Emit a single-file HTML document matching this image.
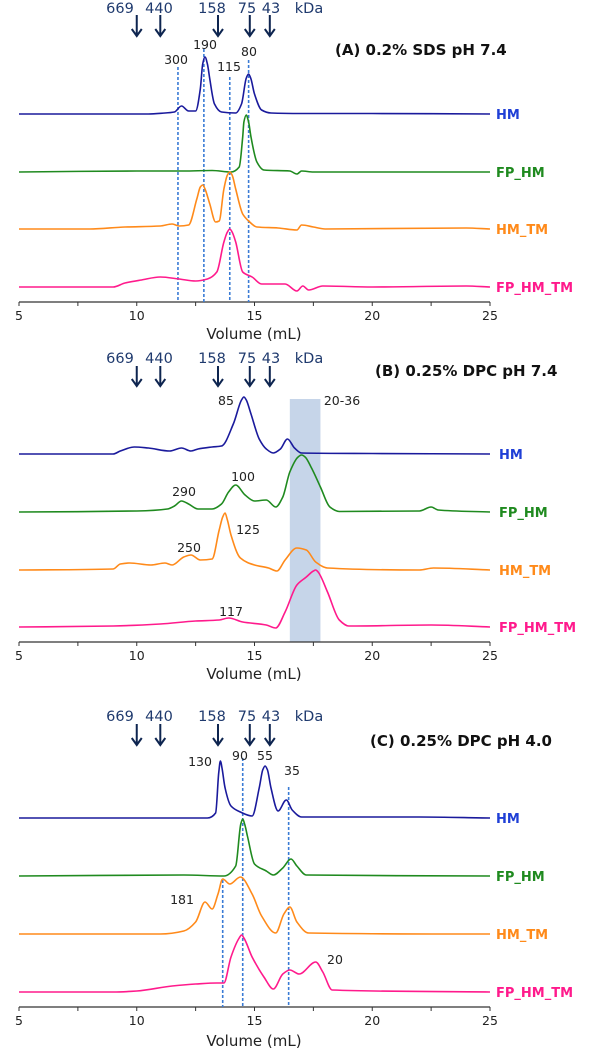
<!DOCTYPE html>
<html><head><meta charset="utf-8"><style>
html,body{margin:0;padding:0;background:#fff;}
svg{display:block;font-family:"DejaVu Sans","Liberation Sans",sans-serif;}
</style></head><body>
<svg id="chart" width="600" height="1050" viewBox="0 0 600 1050" xmlns="http://www.w3.org/2000/svg"></svg>
<script>
// ---- data ----
const seriesNames = ["HM","FP_HM","HM_TM","FP_HM_TM"];
const markerLabels = ["669","440","158","75","43"];
const markerVolumes = [10.0, 11.0, 13.45, 14.8, 15.65];
const tickValues = [5,10,15,20,25];
// Panel A
const aHM_v = [5,10.5,11.2,11.6,11.9,12.2,12.5,12.7,12.8,12.9,13.0,13.1,13.3,13.6,14.2,14.45,14.65,14.75,14.85,15.0,15.3,15.7,17,20,25];
const aHM_s = [0,0,1,2,8,3,3,25,50,57,50,35,10,2,1,10,36,40,35,20,4,1,0.5,0.5,0];
const aFP_v = [5,10,12,13.2,14,14.35,14.5,14.55,14.65,14.75,14.85,15.1,15.4,16.5,16.8,17.0,17.5,25];
const aFP_s = [0,1,1,1.5,0,5,35,50,57,50,35,10,2,1,-2,1,0,0];
const aTM_v = [5,8,9.5,11,11.5,11.8,12.2,12.55,12.7,12.8,12.9,13.1,13.35,13.5,13.7,13.85,13.95,14.05,14.2,14.5,14.75,15.1,16,16.8,17.0,17.5,18,24,25];
const aTM_s = [0,0,2,3,5,3,4,30,42,44,40,25,7,8,40,54,57,54,40,15,8,2,1,-1,4,2,0,1,0];
const aFT_v = [5,9,9.5,10.2,11,11.8,12.5,13,13.4,13.7,13.85,13.95,14.05,14.2,14.5,14.9,15.3,16.3,16.8,17.05,17.3,17.9,20,24,25];
const aFT_s = [0,0,4,7,10,8,6,8,15,45,55,58,55,45,15,10,3,3,-4,1,-3,1,0,1,0];
// Panel B
const bHM_v = [5,9,9.3,9.9,10.5,11.4,11.9,12.3,12.6,13.2,13.6,14.1,14.45,14.55,14.65,14.85,15.2,15.5,15.8,16.1,16.4,16.7,17.0,20,25];
const bHM_s = [0,0,3,7,6,3,6,3,5,7,8,30,54,57,54,40,15,5,1,5,15,6,1,0.5,0];
const bFP_v = [5,10,11.3,11.6,11.9,12.2,12.6,13.2,13.6,13.9,14.2,14.6,15.0,15.5,15.9,16.2,16.5,16.85,17.0,17.15,17.4,17.8,18.2,18.6,22,22.5,22.8,25];
const bFP_s = [0,1,3,6,11,8,3,3,8,20,27,17,11,12,5,15,40,55,57,55,45,25,5,0.5,1,5,2,0];
const bTM_v = [5,9,9.3,9.7,10.6,11.2,11.5,12,12.3,12.7,13.2,13.5,13.65,13.75,13.85,14.0,14.4,15.0,15.6,15.95,16.3,16.8,17.2,17.6,18.1,22,22.6,25];
const bTM_s = [0,1,6,7,5,7,5,13,15,10,11,40,53,57,50,35,12,5,2,-1,10,22,20,8,2,0,2,0];
const bFT_v = [5,9,11,12.5,13.5,13.9,14.5,15.5,15.9,16.3,16.8,17.2,17.5,17.6,17.7,18.1,18.6,19,22.5,25];
const bFT_s = [0,1,3,6,7,9,5,2,-1,15,42,50,56,57,55,35,7,1,2,0];
// Panel C
const cHM_v = [5,13.0,13.35,13.48,13.55,13.62,13.75,14.0,14.4,14.9,15.2,15.35,15.45,15.55,15.7,16.0,16.35,16.6,17.0,22,25];
const cHM_s = [0,0,5,45,57,50,30,12,6,2,30,48,52,48,30,7,18,8,1,1,0];
const cFP_v = [5,12,13.7,14.2,14.42,14.5,14.58,14.7,15.0,15.5,15.8,16.2,16.55,16.8,17.2,25];
const cFP_s = [0,1,0,10,52,57,52,40,12,5,1,8,17,10,1,0];
const cTM_v = [5,11,12.0,12.5,12.9,13.2,13.45,13.65,13.95,14.4,14.9,15.3,15.9,16.25,16.5,16.8,17.3,24,25];
const cTM_s = [0,0,3,12,32,25,40,55,50,57,40,18,1,20,27,12,1,0,0];
const cFT_v = [5,9,10,11.5,12.5,13.4,13.7,14.0,14.35,14.45,14.55,14.9,15.4,15.8,16.2,16.5,16.9,17.6,17.9,18.3,25];
const cFT_s = [0,0,1,6,8,9,9,35,54,57,54,35,15,3,18,22,18,30,20,2,0];

const colors = ["#1a1a9c","#1f8a1f","#ff8a1a","#ff1a8c"];
const labelColors = ["#1f3fd6","#1f8a1f","#ff8a1a","#ff1a8c"];
const markerTextX = [120,159,212,247,271];

const panels = [
 {id:"a", axisY:302, base:[114,172,229,287], axisTitleY:339, markerY:8, arrowY:[15,36],
  title:"(A)  0.2% SDS   pH 7.4", titleX:335, titleY:50, labelX:496,
  series:[[aHM_v,aHM_s],[aFP_v,aFP_s],[aTM_v,aTM_s],[aFT_v,aFT_s]],
  dashes:[[11.75,67],[12.85,49],[13.95,77],[14.75,60]],
  peaks:[["300",176,60],["190",205,45],["115",229,67],["80",249,52]]},
 {id:"b", axisY:642, base:[454,512,570,627], axisTitleY:679, markerY:358, arrowY:[366,386],
  title:"(B)  0.25% DPC   pH 7.4", titleX:375, titleY:371, labelX:499,
  series:[[bHM_v,bHM_s],[bFP_v,bFP_s],[bTM_v,bTM_s],[bFT_v,bFT_s]],
  dashes:[], shade:[16.5,17.8,399],
  peaks:[["85",226,401],["20-36",342,401],["290",184,492],["100",243,477],["250",189,548],["125",248,530],["117",231,612]]},
 {id:"c", axisY:1007, base:[818,876,934,992], axisTitleY:1046, markerY:716, arrowY:[724,745],
  title:"(C)  0.25% DPC   pH 4.0", titleX:370, titleY:741, labelX:496,
  series:[[cHM_v,cHM_s],[cFP_v,cFP_s],[cTM_v,cTM_s],[cFT_v,cFT_s]],
  dashes:[[13.65,880],[14.5,758],[16.45,787]],
  peaks:[["130",200,762],["90",240,756],["55",265,756],["35",292,771],["181",182,900],["20",335,960]]}
];

const svg = document.getElementById("chart");
const NS = "http://www.w3.org/2000/svg";
function xScale(v){ return 19 + (v-5)*23.55; }
function yScale(base, s){ return base - s; }
function mk(tag, attrs, parent){
  const e = document.createElementNS(NS, tag);
  for (const k in attrs) e.setAttribute(k, attrs[k]);
  (parent||svg).appendChild(e);
  return e;
}
function monoPath(pts){
  const n = pts.length;
  const dx=[], dy=[], m=[];
  for (let i=0;i<n-1;i++){ dx.push(pts[i+1][0]-pts[i][0]); dy.push(pts[i+1][1]-pts[i][1]); m.push(dy[i]/dx[i]); }
  const t=[m[0]];
  for (let i=1;i<n-1;i++){
    if (m[i-1]*m[i] <= 0) t.push(0);
    else { const w1=2*dx[i]+dx[i-1], w2=dx[i]+2*dx[i-1]; t.push((w1+w2)/(w1/m[i-1]+w2/m[i])); }
  }
  t.push(m[n-2]);
  let d = "M"+pts[0][0].toFixed(1)+","+pts[0][1].toFixed(1);
  for (let i=0;i<n-1;i++){
    const h=dx[i]/3;
    d += " C"+(pts[i][0]+h).toFixed(1)+","+(pts[i][1]+t[i]*h).toFixed(1)+" "+(pts[i+1][0]-h).toFixed(1)+","+(pts[i+1][1]-t[i+1]*h).toFixed(1)+" "+pts[i+1][0].toFixed(1)+","+pts[i+1][1].toFixed(1);
  }
  return d;
}

panels.forEach(p=>{
  const g = mk("g",{});
  
  
  if (p.shade){
    const r = mk("rect",{x:xScale(p.shade[0]), y:p.shade[2], width:xScale(p.shade[1])-xScale(p.shade[0]), height:p.axisY-p.shade[2], fill:"#c6d5e9"}, g);
    
    
  }
  const ax = mk("line",{x1:xScale(5), x2:xScale(25), y1:p.axisY, y2:p.axisY, stroke:"#333", "stroke-width":1.2}, g);
  
  
  for (let v=5; v<=25; v+=2.5){
    const t = mk("line",{x1:xScale(v), x2:xScale(v), y1:p.axisY, y2:p.axisY+4, stroke:"#333", "stroke-width":1}, g);
    
    
  }
  tickValues.forEach(v=>{
    const t = mk("text",{x:xScale(v), y:p.axisY+18, "text-anchor":"middle", "font-size":12.5, fill:"#222"}, g);
    t.textContent = v;
    
    
  });
  const at = mk("text",{x:254, y:p.axisTitleY, "text-anchor":"middle", "font-size":15, fill:"#222"}, g);
  at.textContent = "Volume (mL)";
  
  
  p.dashes.forEach(dv=>{
    const l = mk("line",{x1:xScale(dv[0]), x2:xScale(dv[0]), y1:dv[1], y2:p.axisY, stroke:"#3a7bd5", "stroke-width":1.6, "stroke-dasharray":"3,2"}, g);
    
    
  });
  markerLabels.forEach((m,i)=>{
    const x = xScale(markerVolumes[i]);
    const t = mk("text",{x:markerTextX[i], y:p.markerY+5, "text-anchor":"middle", "font-size":14.5, fill:"#1f3a6e"}, g);
    t.textContent = m;
    
    
    const a = mk("path",{d:"M"+x+","+p.arrowY[0]+" L"+x+","+p.arrowY[1]+" M"+(x-5)+","+(p.arrowY[1]-7)+" L"+x+","+p.arrowY[1]+" L"+(x+5)+","+(p.arrowY[1]-7), stroke:"#0e2550", "stroke-width":2, fill:"none"}, g);
    
    
  });
  const kd = mk("text",{x:309, y:p.markerY+5, "text-anchor":"middle", "font-size":14.5, fill:"#1f3a6e"}, g);
  kd.textContent = "kDa";
  
  
  const tt = mk("text",{x:p.titleX, y:p.titleY+5, "font-size":15, "font-weight":"bold", fill:"#111", "xml:space":"preserve"}, g);
  tt.textContent = p.title;
  
  
  p.series.forEach((s,i)=>{
    const pts = s[0].map((v,k)=>[xScale(v), yScale(p.base[i], s[1][k])]);
    const path = mk("path",{d:monoPath(pts), stroke:colors[i], "stroke-width":1.6, fill:"none"}, g);
    
    
    const lb = mk("text",{x:p.labelX, y:p.base[i]+5, "font-size":13, "font-weight":"bold", fill:labelColors[i]}, g);
    lb.textContent = seriesNames[i];
    
    
  });
  p.peaks.forEach(pk=>{
    const t = mk("text",{x:pk[1], y:pk[2]+4, "text-anchor":"middle", "font-size":12.5, fill:"#222"}, g);
    t.textContent = pk[0];
    
    
  });
});
</script>
</body></html>
